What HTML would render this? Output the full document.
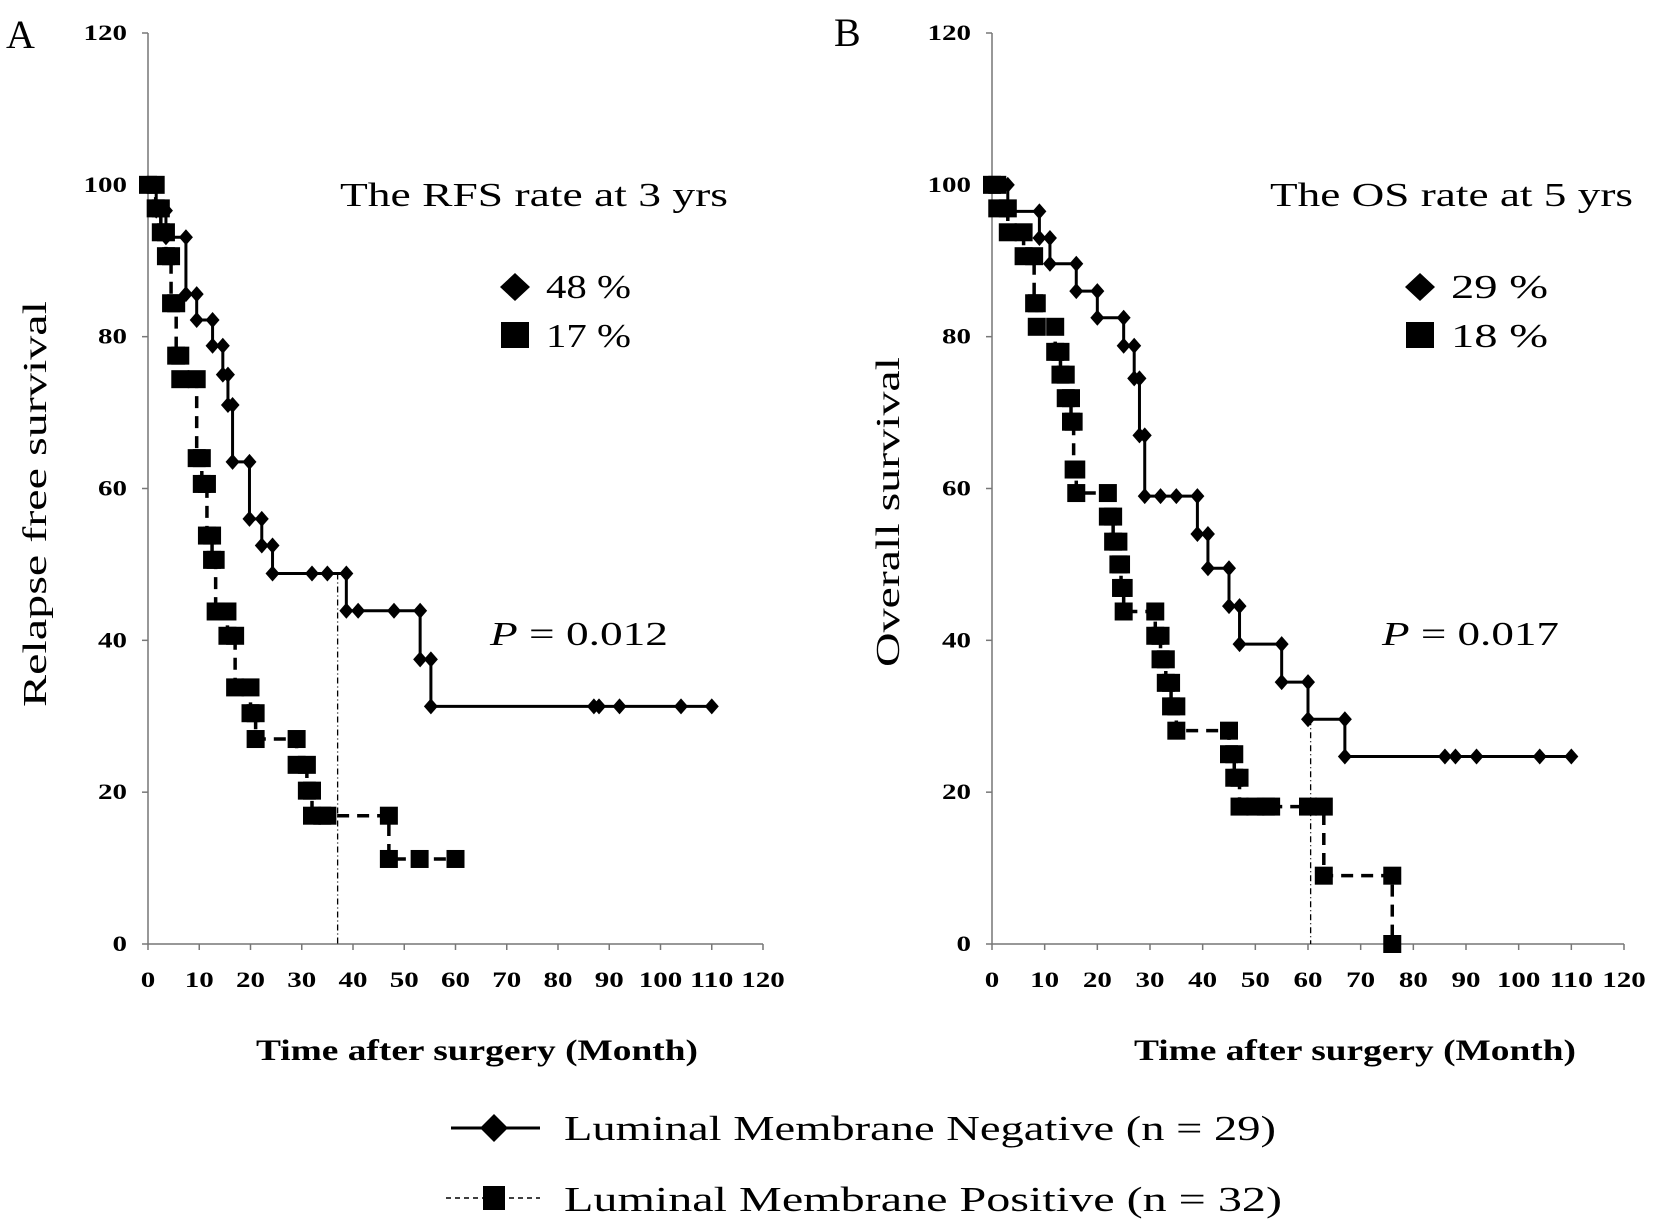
<!DOCTYPE html>
<html><head><meta charset="utf-8"><style>
html,body{margin:0;padding:0;background:#fff;}
svg{display:block;font-family:"Liberation Serif",serif;}
.tick{font-weight:bold;font-size:22px;}
</style></head><body>
<svg id="chart" width="1654" height="1223" viewBox="0 0 1654 1223" xmlns="http://www.w3.org/2000/svg">
<text x="6" y="48" font-size="40">A</text>
<text x="834" y="46" font-size="40">B</text>
<text x="340" y="206" font-size="34" textLength="388" lengthAdjust="spacingAndGlyphs">The RFS rate at 3 yrs</text>
<text x="1270" y="206" font-size="34" textLength="363" lengthAdjust="spacingAndGlyphs">The OS rate at 5 yrs</text>
<text x="490" y="645" font-size="34" textLength="178" lengthAdjust="spacingAndGlyphs"><tspan font-style="italic">P</tspan> = 0.012</text>
<text x="1382" y="645" font-size="34" textLength="177" lengthAdjust="spacingAndGlyphs"><tspan font-style="italic">P</tspan> = 0.017</text>
<text transform="translate(46,504) rotate(-90)" x="-203" y="0" font-size="34" textLength="406" lengthAdjust="spacingAndGlyphs">Relapse  free  survival</text>
<text transform="translate(899,512) rotate(-90)" x="-155" y="0" font-size="34" textLength="310" lengthAdjust="spacingAndGlyphs">Overall  survival</text>
<text x="256" y="1060" font-size="30" font-weight="bold" textLength="442" lengthAdjust="spacingAndGlyphs">Time after surgery (Month)</text>
<text x="1134" y="1060" font-size="30" font-weight="bold" textLength="442" lengthAdjust="spacingAndGlyphs">Time after surgery (Month)</text>
<g>
<line x1="451" y1="1128" x2="540" y2="1128" stroke="#000" stroke-width="3"/>
<polygon points="494,1114 508,1128 494,1142 480,1128" fill="#000"/>
<text x="564" y="1140" font-size="35" textLength="712" lengthAdjust="spacingAndGlyphs">Luminal Membrane  Negative  (n = 29)</text>
<line x1="446" y1="1198" x2="540" y2="1198" stroke="#000" stroke-width="1.5" stroke-dasharray="5,4"/>
<rect x="483" y="1186" width="22" height="24" fill="#000"/>
<text x="564" y="1211" font-size="35" textLength="718" lengthAdjust="spacingAndGlyphs">Luminal Membrane  Positive    (n = 32)</text>
</g>
</svg>
<script>
const xTicks=[0,10,20,30,40,50,60,70,80,90,100,110,120];
const yTicks=[0,20,40,60,80,100,120];
const negA_t=[1.6,3.5,7.4,9.5,12.6,14.6,15.6,16.5,19.8,22.2,24.3,38.7,53.1,55.2];
const negA_s=[96.6,93.1,85.6,82.2,78.8,75.0,71.0,63.5,56.0,52.5,48.8,43.9,37.5,31.3];
const negA_c=[32,35,41,48,87,88,92,104,110];
const posA_t=[1.5,2.5,3.5,4.5,5.5,6.3,9.5,10.5,11.5,12.5,13.2,15.5,17,20,21,29,31,32,47];
const posA_s=[96.9,93.75,90.6,84.4,77.5,74.4,64,60.6,53.8,50.6,43.8,40.6,33.8,30.4,27,23.6,20.2,16.9,11.2];
const posA_c=[34,35,53,60];
const negB_t=[3,9,11,16,20,25,27,28,29,39,41,45,47,55,60,67];
const negB_s=[96.5,93,89.6,86,82.5,78.8,74.5,67,59,54,49.5,44.5,39.5,34.5,29.6,24.7];
const negB_c=[32,35,86,88,92,104,110];
const posB_t=[1,3,6,8,8.5,12,13,14,15,15.5,16,22,23,24,24.5,25,31,32,33,34,35,45,46,47,63,76];
const posB_s=[96.9,93.75,90.6,84.4,81.3,78,75,71.9,68.8,62.5,59.4,56.3,53,50,46.9,43.8,40.6,37.5,34.4,31.3,28.1,25,21.9,18.1,9,0];
const posB_c=[50,52,53,60];
const refA=37, refB=60.5;

const NS="http://www.w3.org/2000/svg";
const svg=document.getElementById('chart');
function mk(tag,attrs,parent){const e=document.createElementNS(NS,tag);for(const k in attrs)e.setAttribute(k,attrs[k]);(parent||svg).appendChild(e);return e;}

function panel(x0,x1,t1,s1,c1,t2,s2,c2,ref,pname){
  const y0=944,yTop=33;
  const X=v=>x0+(x1-x0)*v/120;
  const Y=v=>y0-(y0-yTop)*v/120;
  const g=mk('g',{});
  
  
  const ax=mk('line',{x1:x0,y1:yTop,x2:x0,y2:y0,stroke:'#777','stroke-width':1.5},g);
  
  
  const bx=mk('line',{x1:x0,y1:y0,x2:x1,y2:y0,stroke:'#777','stroke-width':1.5},g);
  
  
  yTicks.forEach(v=>{
    mk('line',{x1:x0-6,y1:Y(v),x2:x0,y2:Y(v),stroke:'#777','stroke-width':1.5},g);
    const s=String(v);const w=s.length*14.5;
    const t=mk('text',{x:x0-21-w,y:Y(v)+7,class:'tick',textLength:w,lengthAdjust:'spacingAndGlyphs'},g);t.textContent=s;
    
    
  });
  xTicks.forEach(v=>{
    mk('line',{x1:X(v),y1:y0,x2:X(v),y2:y0+6,stroke:'#777','stroke-width':1.5},g);
    const s=String(v);const w=s.length*14.5;
    const t=mk('text',{x:X(v)-w/2,y:y0+43,class:'tick',textLength:w,lengthAdjust:'spacingAndGlyphs'},g);t.textContent=s;
    
    
  });
  const sv=(ts,ss,t)=>{let s=100;ts.forEach((tt,i)=>{if(tt<=t)s=ss[i];});return s;};
  const r=mk('line',{x1:X(ref),y1:Y(Math.max(sv(t1,s1,ref),sv(t2,s2,ref))),x2:X(ref),y2:y0,stroke:'#000','stroke-width':1.3,'stroke-dasharray':'6,3,1,3'},g);
  
  
  function series(ts,ss,cs,dashed,name){
    const end=Math.max(ts[ts.length-1],cs.length?cs[cs.length-1]:0);
    let d='M'+X(0)+','+Y(100);let s=100;const marks=[[0,100]];
    ts.forEach((t,i)=>{d+=' L'+X(t)+','+Y(s)+' L'+X(t)+','+Y(ss[i]);marks.push([t,s]);marks.push([t,ss[i]]);s=ss[i];});
    if(end>ts[ts.length-1])d+=' L'+X(end)+','+Y(s);
    cs.forEach(c=>marks.push([c,sv(ts,ss,c)]));
    const p=mk('path',{d:d,fill:'none',stroke:'#000','stroke-width':dashed?3.5:3,'stroke-dasharray':dashed?'12,8':'none'},g);
    
    
    marks.forEach(m=>{
      const cx=X(m[0]),cy=Y(m[1]);let e;
      if(dashed)e=mk('rect',{x:cx-9,y:cy-9,width:18,height:18,fill:'#000'},g);
      else e=mk('polygon',{points:`${cx},${cy-8} ${cx+7},${cy} ${cx},${cy+8} ${cx-7},${cy}`,fill:'#000'},g);
      
      
    });
  }
  series(t2,s2,c2,true,'positive');
  series(t1,s1,c1,false,'negative');
}
panel(148,763,negA_t,negA_s,negA_c,posA_t,posA_s,posA_c,refA,'panel-a');
panel(992,1624,negB_t,negB_s,negB_c,posB_t,posB_s,posB_c,refB,'panel-b');

function inlegend(x,txt1,txt2,w){
  const d=mk('polygon',{points:`${x},${273} ${x+15},${287} ${x},${301} ${x-15},${287}`,fill:'#000'});
  
  
  const s=mk('rect',{x:x-14,y:322,width:28,height:26,fill:'#000'});
  
  
  const a=mk('text',{x:x+31,y:298,'font-size':34,textLength:w,lengthAdjust:'spacingAndGlyphs'});a.textContent=txt1;
  
  
  const b=mk('text',{x:x+31,y:347,'font-size':34,textLength:w,lengthAdjust:'spacingAndGlyphs'});b.textContent=txt2;
  
  
}
inlegend(515,'48 %','17 %',85);
inlegend(1420,'29  %','18  %',97);
</script>
</body></html>
